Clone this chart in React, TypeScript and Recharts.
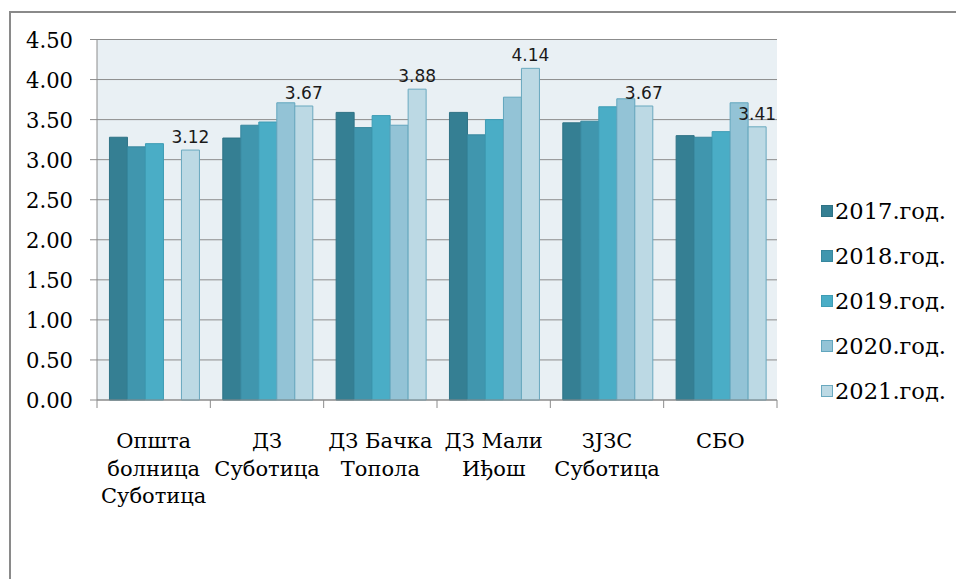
import React, { FC } from 'react';
import {
  BarChart,
  Bar,
  XAxis,
  YAxis,
  CartesianGrid,
  LabelList,
} from 'recharts';

// category names, line breaks as in the source picture
const categories = [
  'Општа\nболница\nСуботица',
  'ДЗ\nСуботица',
  'ДЗ Бачка\nТопола',
  'ДЗ Мали\nИђош',
  'ЗЈЗС\nСуботица',
  'СБО',
];
const years = ['2017.год.', '2018.год.', '2019.год.', '2020.год.', '2021.год.'];

const y2017 = [3.28, 3.27, 3.59, 3.59, 3.46, 3.30];
const y2018 = [3.16, 3.43, 3.40, 3.31, 3.48, 3.28];
const y2019 = [3.20, 3.47, 3.55, 3.50, 3.66, 3.35];
const y2020 = [null, 3.71, 3.43, 3.78, 3.76, 3.71];
const y2021 = [3.12, 3.67, 3.88, 4.14, 3.67, 3.41];

const yTicks = [0, 0.5, 1, 1.5, 2, 2.5, 3, 3.5, 4, 4.5];

const fills = ['#357F93', '#4096AE', '#4AADC6', '#93C3D6', '#BCD9E4'];
const strokes = ['#2E7285', '#37879E', '#3E9CB4', '#62A6BE', '#6AA9BF'];
const keys = ['y2017', 'y2018', 'y2019', 'y2020', 'y2021'];

const data = categories.map((name, i) => ({
  name,
  y2017: y2017[i],
  y2018: y2018[i],
  y2019: y2019[i],
  y2020: y2020[i],
  y2021: y2021[i],
}));

const GRAY = '#8C8C8C';
const SERIF = '"DejaVu Serif", "Liberation Serif", serif';
const PLOT_W = 680;
const band = PLOT_W / categories.length;

const YTick = (props: any) => {
  const { x, y, payload } = props;
  return (
    <text
      x={x}
      y={y + 8}
      textAnchor="end"
      style={{ fontFamily: SERIF, fontSize: 23 }}
      fill="#000"
      textLength={47}
      lengthAdjust="spacingAndGlyphs"
    >
      {Number(payload.value).toFixed(2)}
    </text>
  );
};

const XTick = (props: any) => {
  const { x, y, payload, index } = props;
  const lines = String(payload.value).split('\n');
  return (
    <g>
      <line x1={x - band / 2} x2={x - band / 2} y1={y} y2={y + 8} stroke={GRAY} />
      {index === categories.length - 1 && (
        <line x1={x + band / 2} x2={x + band / 2} y1={y} y2={y + 8} stroke={GRAY} />
      )}
      <text
        x={x}
        y={y + 48}
        textAnchor="middle"
        style={{ fontFamily: SERIF, fontSize: 21 }}
        fill="#000"
      >
        {lines.map((l, i) => (
          <tspan key={l} x={x} dy={i === 0 ? 0 : 27.5}>{l}</tspan>
        ))}
      </text>
    </g>
  );
};

const App: FC = () => (
  <div
    style={{
      position: 'absolute',
      left: 0,
      top: 0,
      width: 956,
      height: 579,
      overflow: 'hidden',
      background: '#fff',
    }}
  >
    <div
      style={{
        position: 'absolute',
        left: 9,
        top: 11,
        width: 1000,
        height: 700,
        borderTop: '2px solid #8A8A8A',
        borderLeft: '2px solid #8A8A8A',
      }}
    />
    <div style={{ position: 'absolute', left: 0, top: 0 }}>
      <BarChart
        width={956}
        height={579}
        data={data}
        margin={{ top: 39.5, right: 179, left: 0, bottom: 0 }}
        barGap={0}
        barCategoryGap="11%"
      >
        <CartesianGrid vertical={false} stroke={GRAY} fill="#E9F0F4" fillOpacity={1} />
        <XAxis
          dataKey="name"
          height={179}
          interval={0}
          tickSize={0}
          tickMargin={0}
          axisLine={{ stroke: GRAY }}
          tick={XTick}
        />
        <YAxis
          width={97}
          domain={[0, 4.5]}
          ticks={yTicks}
          interval={0}
          tickSize={7}
          tickMargin={17}
          tickLine={{ stroke: GRAY }}
          axisLine={{ stroke: GRAY }}
          tick={YTick}
        />
        {keys.map((k, i) => (
          <Bar
            key={k}
            dataKey={k}
            name={years[i]}
            fill={fills[i]}
            stroke={strokes[i]}
            strokeWidth={1}
            isAnimationActive={false}
          >
            {k === 'y2021' && (
              <LabelList
                dataKey={k}
                position="top"
                offset={7}
                formatter={(v: any) => Number(v).toFixed(2)}
                style={{ fontFamily: '"DejaVu Sans", sans-serif', fontSize: 17, fill: '#1A1A1A' }}
              />
            )}
          </Bar>
        ))}
      </BarChart>
    </div>
    <svg
      width={140}
      height={220}
      style={{ position: 'absolute', left: 816, top: 190 }}
    >
      {years.map((yr, i) => (
        <g key={yr}>
          <rect
            x={5.5}
            y={21 + i * 45 - 5.5}
            width={11}
            height={11}
            fill={fills[i]}
            stroke={strokes[i]}
          />
          <text
            x={19}
            y={21 + i * 45 + 8}
            style={{ fontFamily: SERIF, fontSize: 22 }}
            fill="#000"
            textLength={111}
            lengthAdjust="spacingAndGlyphs"
          >
            {yr}
          </text>
        </g>
      ))}
    </svg>
  </div>
);

export default App;
